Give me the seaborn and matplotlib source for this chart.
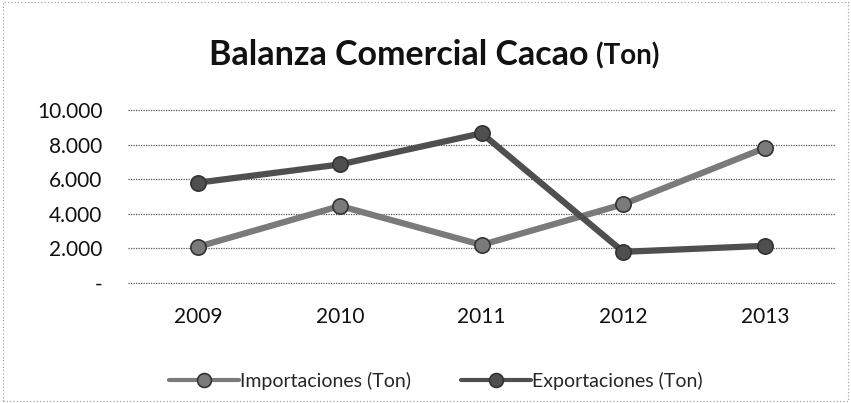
import pandas as pd
import matplotlib
matplotlib.use('Agg')
import matplotlib.pyplot as plt
from matplotlib.ticker import FuncFormatter
import seaborn as sns

# Data
years = ['2009', '2010', '2011', '2012', '2013']
importaciones = [2100, 4450, 2200, 4550, 7800]
exportaciones = [5800, 6850, 8650, 1800, 2150]
series_names = ['Importaciones (Ton)', 'Exportaciones (Ton)']

df = pd.DataFrame({
    'Año': years * 2,
    'Toneladas': importaciones + exportaciones,
    'Serie': [series_names[0]] * len(years) + [series_names[1]] * len(years),
})

sns.set_theme(style="white")
plt.rcParams['font.family'] = ['Lato', 'DejaVu Sans']

fig = plt.figure(figsize=(8.51, 4.03), dpi=100)
ax = fig.add_axes([0.150, 0.296, 0.832, 0.433])

palette = {series_names[0]: '#7a7a7a', series_names[1]: '#4f4f4f'}
sns.lineplot(data=df, x='Año', y='Toneladas', hue='Serie', palette=palette,
             marker='o', markersize=11, markeredgecolor='#333333',
             markeredgewidth=1.2, linewidth=4.5, sort=False, ax=ax, legend=True)

ax.set_ylim(-40, 10040)
ax.set_yticks([0, 2000, 4000, 6000, 8000, 10000])
ax.yaxis.set_major_formatter(FuncFormatter(
    lambda v, p: '-' if v == 0 else f'{int(v):,}'.replace(',', '.')))
ax.set_xlim(-0.5, len(years) - 0.5)
ax.grid(axis='y', linestyle=(0, (1, 1)), color='#555555', linewidth=0.9)
ax.set_axisbelow(True)
for s in ax.spines.values():
    s.set_visible(False)
ax.set_xlabel('')
ax.set_ylabel('')
ax.tick_params(axis='y', labelsize=15, pad=18, colors='#111111', length=0)
ax.tick_params(axis='x', labelsize=15, pad=17, colors='#111111', length=0)

# Title in two sizes
fig.text(0.692, 0.839, 'Balanza Comercial Cacao', ha='right', va='baseline',
         fontsize=24.5, fontweight='bold', color='#111111')
fig.text(0.700, 0.839, '(Ton)', ha='left', va='baseline',
         fontsize=20, fontweight='bold', color='#111111')

# Legend at the bottom
handles, labels = ax.get_legend_handles_labels()
ax.get_legend().remove()
for h in handles:
    h.set_linewidth(3)
    h.set_markersize(10)
fig.legend(handles, labels, loc='center', bbox_to_anchor=(0.512, 0.055), ncol=2,
           frameon=False, fontsize=14, handlelength=3.6, columnspacing=2.6,
           handletextpad=0.05)

# Dotted frame of the chart area
frame = plt.Rectangle((0.004, 0.004), 0.992, 0.99, transform=fig.transFigure,
                      fill=False, linestyle=(0, (1, 2)), edgecolor='#999999',
                      linewidth=0.8)
fig.patches.append(frame)

fig.savefig('out.png', dpi=100)
